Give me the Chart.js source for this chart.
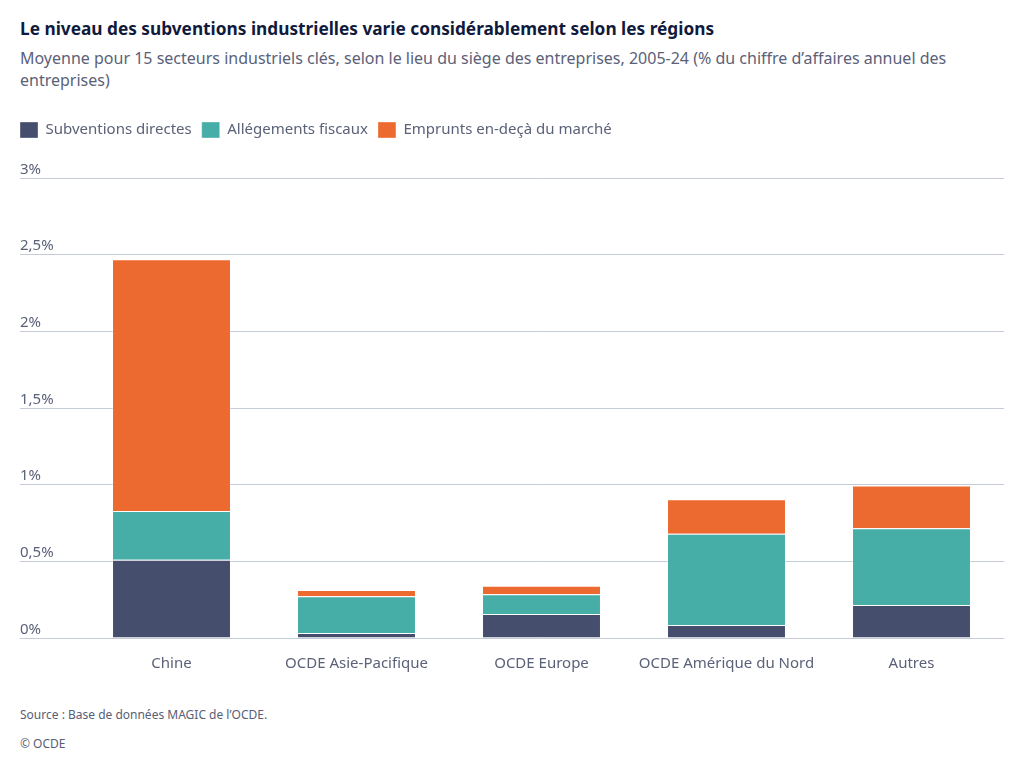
<!DOCTYPE html>
<html lang="fr">
<head>
<meta charset="utf-8">
<script src="https://cdn.jsdelivr.net/npm/chart.js@4"></script>
<style>
  body { margin: 0; background: #fff; font-family: "Noto Sans", sans-serif; }
  #wrap { position: relative; width: 1024px; height: 768px; overflow: hidden; }
  .title { position: absolute; left: 20px; top: 17px; font-size: 17.25px; font-weight: 700; color: #101a3c; }
  .subtitle { position: absolute; left: 20px; top: 47px; width: 970px; font-size: 16px; line-height: 22px; color: #5b6178; }
  .foot { position: absolute; left: 20px; font-size: 12px; color: #585e75; }
  #box { position: absolute; left: 0; top: 112px; width: 1024px; height: 570px; }
</style>
</head>
<body>
<div id="wrap">
  <div class="title">Le niveau des subventions industrielles varie considérablement selon les régions</div>
  <div class="subtitle">Moyenne pour 15 secteurs industriels clés, selon le lieu du siège des entreprises, 2005-24 (% du chiffre d’affaires annuel des entreprises)</div>
  <div id="box"><canvas id="myChart"></canvas></div>
  <div class="foot" style="top: 706px;">Source : Base de données MAGIC de l’OCDE.</div>
  <div class="foot" style="top: 735px;">© OCDE</div>
</div>
<script>
// data
var regions = ["Chine", "OCDE Asie-Pacifique", "OCDE Europe", "OCDE Amérique du Nord", "Autres"];
var directes = [0.51, 0.033, 0.157, 0.085, 0.215];
var fiscaux = [0.318, 0.24, 0.128, 0.595, 0.50];
var emprunts = [1.642, 0.04, 0.056, 0.225, 0.28];
var yTicks = [0, 0.5, 1, 1.5, 2, 2.5, 3];

var textColor = "#5b6178";
var gridColor = "#c6cbd8";

function fmt(v) {
  return String(v).replace(".", ",") + "%";
}

// extra space under the legend
var legendGap = {
  id: "legendGap",
  beforeInit: function (chart) {
    var fit = chart.legend.fit;
    chart.legend.fit = function () {
      fit.bind(chart.legend)();
      this.height += 30;
    };
  },
};

// y labels sit above the grid lines, flush left
var yLabels = {
  id: "yLabels",
  afterDraw: function (chart) {
    var c = chart.ctx;
    var y = chart.scales.y;
    c.save();
    c.font = "15px 'Noto Sans'";
    c.fillStyle = textColor;
    c.textAlign = "left";
    c.textBaseline = "bottom";
    yTicks.forEach(function (v) {
      c.fillText(fmt(v), 20, y.getPixelForValue(v) - 1);
    });
    c.restore();
  },
};

var ctx = document.getElementById("myChart").getContext("2d");
var chart = new Chart(ctx, {
  type: "bar",
  data: {
    labels: regions,
    datasets: [
      { label: "Subventions directes", data: directes, backgroundColor: "#464e6e" },
      { label: "Allégements fiscaux", data: fiscaux, backgroundColor: "#47ada7" },
      { label: "Emprunts en-deçà du marché", data: emprunts, backgroundColor: "#ec6a2f" },
    ].map(function (d) {
      d.borderColor = "rgba(255,255,255,0.35)";
      d.borderWidth = 1;
      d.barPercentage = 0.643;
      d.categoryPercentage = 1;
      return d;
    }),
  },
  options: {
    responsive: true,
    maintainAspectRatio: false,
    animation: false,
    layout: { padding: { left: 10, right: 20, top: 0, bottom: 0 } },
    plugins: {
      tooltip: { enabled: false },
      legend: {
        position: "top",
        align: "start",
        labels: {
          boxWidth: 18,
          boxHeight: 16,
          padding: 10,
          color: textColor,
          font: { family: "Noto Sans", size: 15 },
        },
      },
    },
    scales: {
      x: {
        stacked: true,
        grid: { display: false },
        border: { display: false },
        ticks: { color: textColor, padding: 9, font: { family: "Noto Sans", size: 15 } },
      },
      y: {
        stacked: true,
        min: 0,
        max: 3,
        afterFit: function (scale) {
          scale.width = 69;
        },
        afterBuildTicks: function (scale) {
          scale.ticks = yTicks.map(function (v) {
            return { value: v };
          });
        },
        border: { display: false },
        grid: { color: gridColor, lineWidth: 1, drawTicks: true, tickLength: 59 },
        ticks: { display: false },
      },
    },
  },
  plugins: [legendGap, yLabels],
});
</script>
</body>
</html>
